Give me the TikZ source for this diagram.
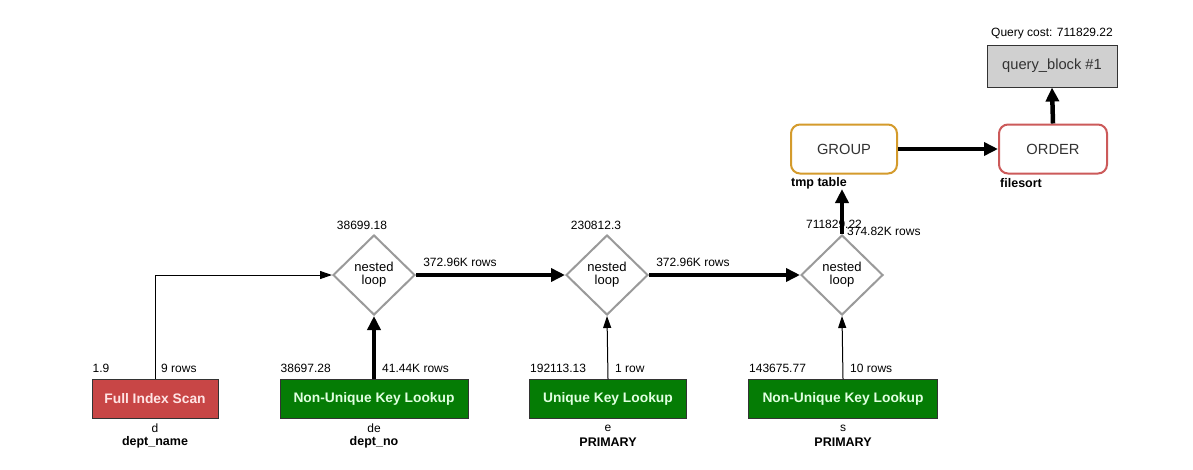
\documentclass[tikz,border=0pt]{standalone}
\usepackage{fontspec}
\setmainfont{Liberation Sans}
\usetikzlibrary{arrows.meta,shapes.geometric}
\definecolor{scanred}{HTML}{C84646}
\definecolor{lookgreen}{HTML}{057C05}
\definecolor{grpgold}{HTML}{D49B2C}
\definecolor{ordred}{HTML}{CC5A5A}
\definecolor{qbgray}{HTML}{D0D0D0}
\definecolor{loopgray}{HTML}{9A9A9A}
\tikzset{
  lbl/.style={inner sep=0pt,font=\fontsize{12}{14}\selectfont},
  blbl/.style={inner sep=0pt,font=\fontsize{12.5}{14}\selectfont\bfseries},
  access/.style={draw=black!80,line width=1pt,minimum height=39pt,inner sep=0pt,font=\fontsize{13.8}{16}\selectfont\bfseries},
  loopnode/.style={diamond,draw=loopgray,fill=white,line width=2pt,minimum width=82pt,minimum height=80pt,inner sep=0pt,align=center,font=\fontsize{13}{13}\selectfont},
  opnode/.style={rounded corners=9pt,fill=white,line width=2pt,minimum width=106pt,minimum height=49pt,text=black!80,font=\fontsize{14.7}{16}\selectfont},
  thinflow/.style={line width=1pt,-{Triangle[length=12pt,width=8pt]}},
  thickflow/.style={line width=4.5pt,-{Triangle[length=14pt,width=13pt]}}
}

\begin{document}
\begin{tikzpicture}[x=1pt,y=-1pt]
  \path[fill=white] (0,0) rectangle (1193,469);
  \node[access,fill=scanred,text=white!90!red,minimum width=126pt] (fis) at (155,399) {Full Index Scan};
  \node[access,fill=lookgreen,text=white!88!green,minimum width=188pt] (nukde) at (374,399) {Non-Unique Key Lookup};
  \node[access,fill=lookgreen,text=white!88!green,minimum width=157pt] (ukle) at (608,399) {Unique Key Lookup};
  \node[access,fill=lookgreen,text=white!88!green,minimum width=189pt] (nuks) at (843,399) {Non-Unique Key Lookup};
  \foreach \n/\c/\r/\t/\k/\dx in {fis/1.9/9 rows/d/dept\_name/6, nukde/38697.28/41.44K rows/de/dept\_no/8,
      ukle/192113.13/1 row/e/PRIMARY/7, nuks/143675.77/10 rows/s/PRIMARY/7} {
    \node[lbl,anchor=west] (\n-cost) at ([shift={(1,-11)}]\n.north west) {\c};
    \node[lbl,anchor=west] (\n-rows) at ([shift={(\dx,-11)}]\n.north) {\r};
    \node[lbl] (\n-tab) at ([shift={(0,9)}]\n.south) {\t};
    \node[blbl] (\n-key) at ([shift={(0,23)}]\n.south) {\k};
  }
  \node[loopnode] (nl1) at (374,275) {nested\\loop};
  \node[loopnode] (nl2) at (607,275) {nested\\loop};
  \node[loopnode] (nl3) at (842,275) {nested\\loop};
  \node[lbl] (nl1-cost) at (362,225) {38699.18};
  \node[lbl] (nl2-cost) at (596,225) {230812.3};
  \node[lbl] (nl3-cost) at (834,224) {711829.22};
  \node[opnode,draw=grpgold] (grp) at (844,149) {GROUP};
  \node[opnode,draw=ordred,minimum width=108pt] (ord) at (1053,149) {ORDER};
  \node[draw=black!80,fill=qbgray,line width=1pt,minimum width=130pt,minimum height=42pt,text=black!80,font=\fontsize{14.7}{16}\selectfont] (qb) at (1052,66) {query\_block \#1};
  \node[lbl] (qcost) at (1052,34) {Query cost: 711829.22};
  \node[blbl,anchor=west] (tmpt) at (791,183) {tmp table};
  \node[blbl,anchor=west] (fsort) at (1000,183) {filesort};
  \draw[thinflow] (fis.north) |- (nl1.west);
  \draw[thickflow] (nukde.north) -- (nl1.south);
  \draw[thinflow] (ukle.north) -- (nl2.south);
  \draw[thinflow] (nuks.north) -- (nl3.south);
  \draw[thickflow] (nl1.east) -- node[lbl,anchor=west,pos=0,yshift=13pt,xshift=5pt] (rows12) {372.96K rows} (nl2.west);
  \draw[thickflow] (nl2.east) -- node[lbl,anchor=west,pos=0,yshift=13pt,xshift=5pt] (rows23) {372.96K rows} (nl3.west);
  \draw[thickflow] (nl3.north) -- (nl3.north |- tmpt.south);
  \node[lbl,anchor=west] (rows3g) at (847,231) {374.82K rows};
  \draw[thickflow] (grp.east) -- (ord.west);
  \draw[thickflow] (ord.north) -- (qb.south);
\end{tikzpicture}
\end{document}
